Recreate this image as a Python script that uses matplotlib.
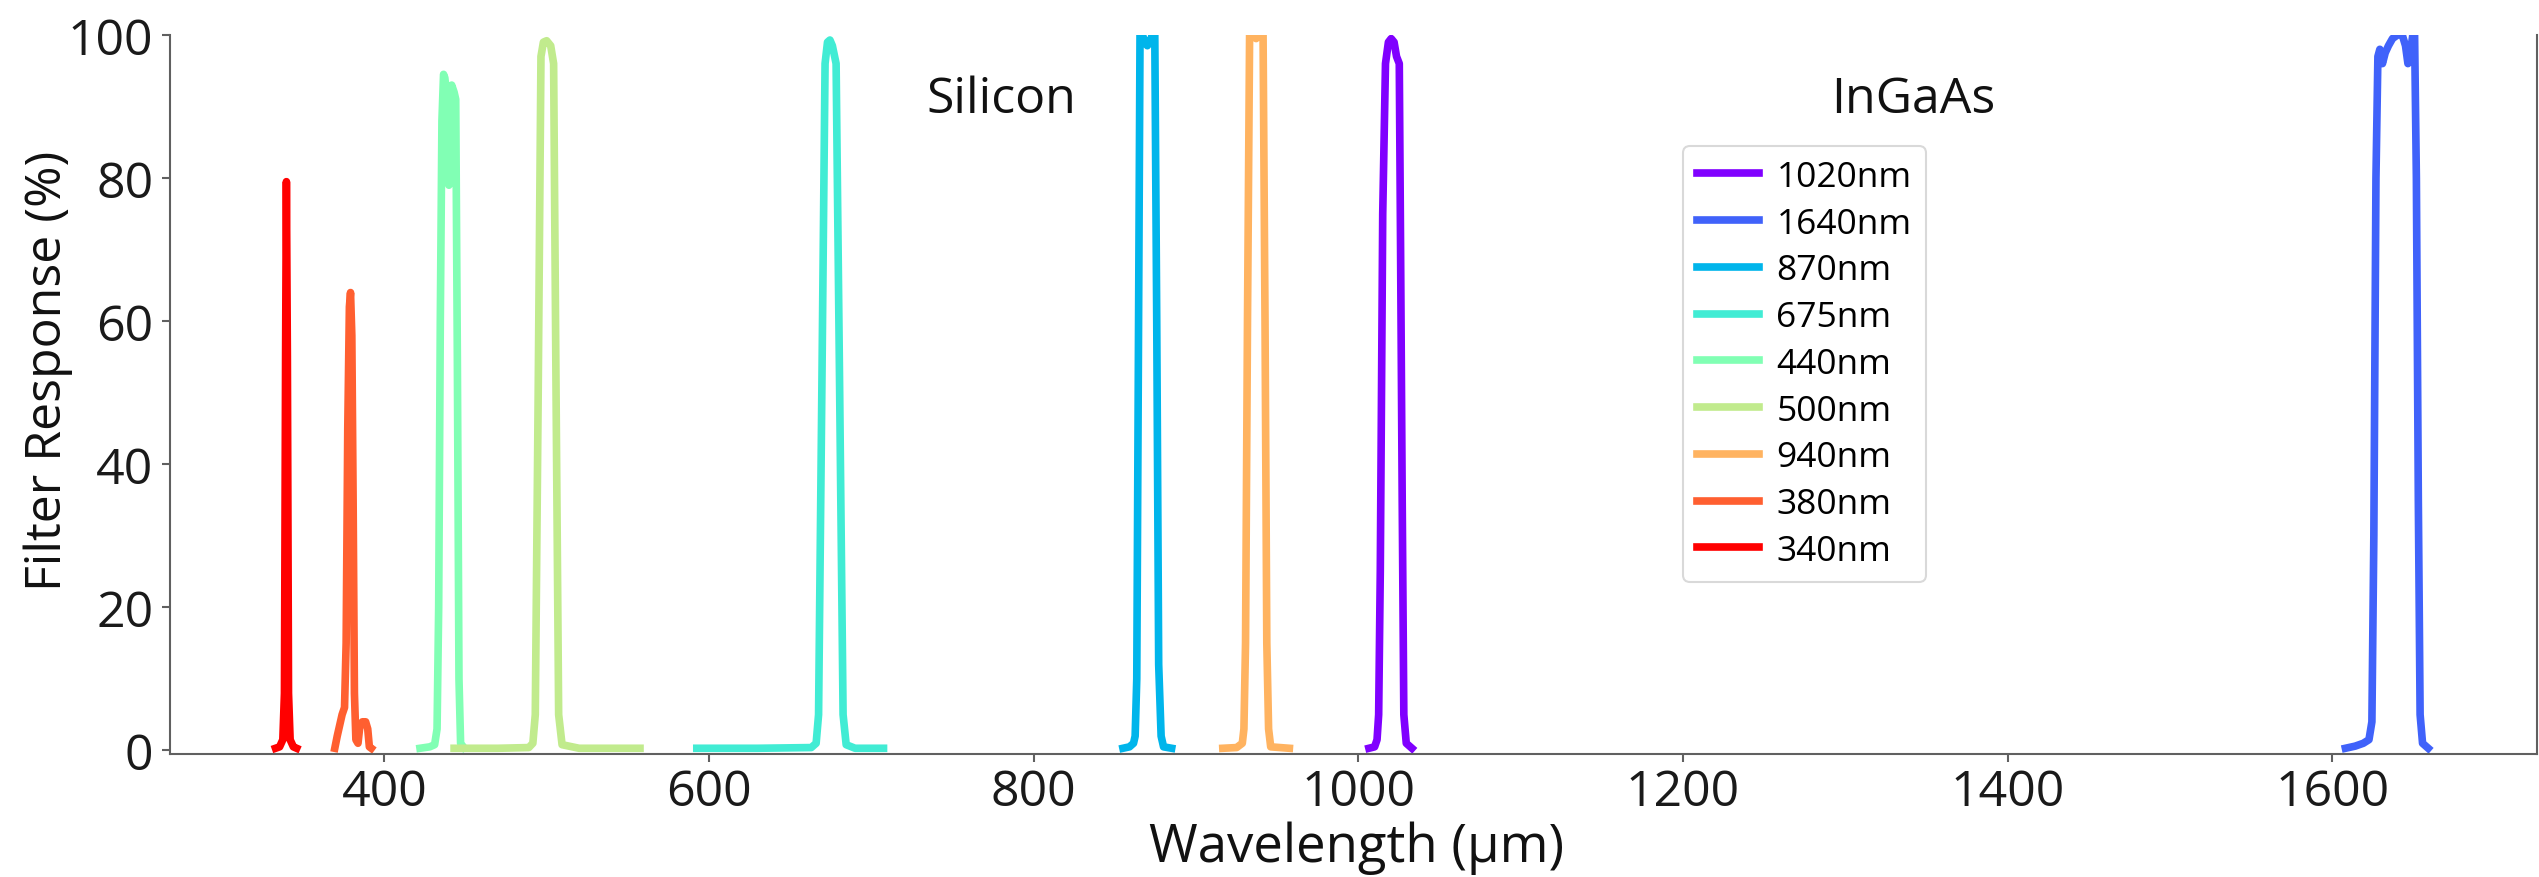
import numpy as np
import matplotlib
matplotlib.use("Agg")
import matplotlib.pyplot as plt

plt.rcParams['font.family'] = ['Open Sans', 'DejaVu Sans']

# filter names, in legend order
labels = ['1020nm', '1640nm', '870nm', '675nm', '440nm', '500nm', '940nm', '380nm', '340nm']

# measured transmission curves (wavelength, response %)
wl_1020 = [1006.5, 1010, 1011.5, 1012.5, 1013.5, 1015, 1016.7, 1018.5, 1020.2, 1022, 1023.5, 1025.2,
           1026.0, 1027.0, 1028.0, 1029.5, 1033]
resp_1020 = [0.3, 0.5, 1.5, 5, 25, 75, 96, 99, 99.5, 99, 97, 96, 70, 35, 5, 1, 0.3]

wl_1640 = [1608, 1614, 1619, 1622.5, 1624.3, 1625.5, 1626.8, 1628, 1629.2, 1630.8, 1632.5, 1634.5,
           1637, 1640, 1643, 1645, 1646.5, 1648, 1649.5, 1650.6, 1651.7, 1652.9, 1654, 1655.5, 1659]
resp_1640 = [0.3, 0.6, 1, 1.5, 4, 30, 80, 97, 98, 96, 97.5, 98.5, 99.5, 100, 100, 98.5, 96, 97.5,
             100, 100, 80, 35, 5, 1, 0.3]

wl_870 = [855, 859, 861.5, 862.5, 863.5, 864.5, 865.5, 867, 868.5, 870, 871.5, 873, 874.6, 875.8,
          877, 878.5, 880, 885]
resp_870 = [0.3, 0.5, 1, 2, 10, 55, 100, 100, 99, 98.5, 99, 100, 100, 60, 12, 2, 0.5, 0.3]

wl_675 = [592.5, 630, 663, 666, 667.5, 669.5, 671.5, 673, 674.5, 676, 678.3, 680.5, 682.6, 684.5,
          690, 707.5]
resp_675 = [0.3, 0.3, 0.4, 1, 5, 50, 96, 99, 99.3, 98.5, 96, 50, 5, 0.8, 0.3, 0.3]

wl_440 = [422, 428, 431, 432.5, 433.5, 434.5, 435.5, 436.5, 437.3, 438.2, 439.0, 439.8, 440.6,
          441.5, 443.0, 444.0, 445.0, 446.0, 447.0, 449.0]
resp_440 = [0.3, 0.5, 0.8, 3, 20, 60, 88, 94.5, 94, 92, 83, 79, 90, 93, 92, 91, 55, 10, 1, 0.4]

wl_500 = [443, 470, 489, 491.5, 493.0, 494.8, 496.5, 498, 500, 502.5, 504.3, 505.8, 507.4, 509.5,
          520, 557.5]
resp_500 = [0.3, 0.3, 0.4, 1, 5, 50, 97, 99, 99.2, 98.5, 96, 50, 5, 0.8, 0.3, 0.3]

wl_940 = [916.5, 925, 928.5, 929.5, 930.5, 931.7, 933, 935, 937, 939, 941.3, 942.5, 943.6, 944.7,
          946, 957.5]
resp_940 = [0.3, 0.4, 1, 3, 15, 60, 100, 100, 99.5, 100, 100, 60, 15, 3, 0.5, 0.3]

wl_380 = [369.5, 371, 372.5, 374, 375.5, 376.5, 377.5, 378.5, 379.2, 380.0, 380.8, 381.6, 382.5,
          383.8, 385.0, 386.5, 388.5, 389.8, 390.8, 392]
resp_380 = [0.3, 2, 3.5, 5, 6, 15, 45, 62, 64, 58, 35, 8, 1.5, 1, 3.5, 4, 4, 3, 0.5, 0.3]

wl_340 = [333, 335.5, 337.5, 338.5, 339.2, 339.7, 340.3, 341.0, 342.0, 344.0, 346.0]
resp_340 = [0.3, 0.5, 1.5, 8, 55, 79.5, 55, 8, 1.5, 0.5, 0.3]

curves = [(wl_1020, resp_1020), (wl_1640, resp_1640), (wl_870, resp_870), (wl_675, resp_675),
          (wl_440, resp_440), (wl_500, resp_500), (wl_940, resp_940), (wl_380, resp_380),
          (wl_340, resp_340)]

colors = plt.cm.rainbow(np.linspace(0, 1, len(labels)))

fig = plt.figure(figsize=(25.39, 8.78), dpi=100)
ax = fig.add_axes([170 / 2539, 1 - 755 / 878, 2367 / 2539, 719 / 878])

for (wl, resp), lab, col in zip(curves, labels, colors):
    ax.plot(wl, resp, color=col, lw=5.5, label=lab, solid_joinstyle='round')

ax.set_xlim(268, 1726)
ax.set_ylim(-0.5, 100)
ax.set_xticks([400, 600, 800, 1000, 1200, 1400, 1600])
ax.set_yticks([0, 20, 40, 60, 80, 100])

for side in ['left', 'bottom', 'right']:
    ax.spines[side].set_color('#606060')
    ax.spines[side].set_linewidth(1.5)
ax.spines['top'].set_visible(False)

ax.tick_params(axis='both', colors='#606060', labelcolor='#1a1a1a', labelsize=36,
               length=6, width=1.5)
ax.tick_params(axis='x', pad=4)
ax.tick_params(axis='y', pad=6)

ax.set_xlabel('Wavelength (µm)', fontsize=38, color='#111111')
ax.set_ylabel('Filter Response (%)', fontsize=36, color='#111111')
ax.xaxis.set_label_coords(0.5015, -0.093)
ax.yaxis.set_label_coords(-0.041, 0.534)

ax.text(780, 91, 'Silicon', fontsize=36, ha='center', va='center', color='#111111')
ax.text(1342, 91, 'InGaAs', fontsize=36, ha='center', va='center', color='#111111')

leg = ax.legend(loc='upper left', bbox_to_anchor=(0.639, 0.846), borderaxespad=0,
                fontsize=25.5, handlelength=1.75, handletextpad=0.5, labelspacing=0.36,
                borderpad=0.4)
leg.get_frame().set_edgecolor('#d0d0d0')
leg.get_frame().set_linewidth(1.5)

fig.savefig('out.png', dpi=100)
